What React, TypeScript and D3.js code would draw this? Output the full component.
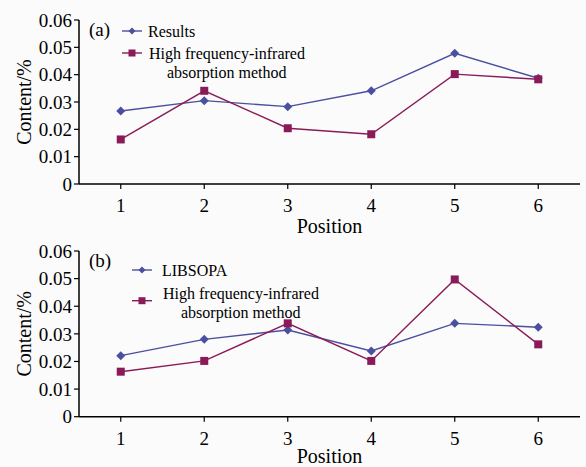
import React, { useEffect } from "react";
import * as d3 from "d3";

const positions = [1, 2, 3, 4, 5, 6];
const yTicks = [0, 0.01, 0.02, 0.03, 0.04, 0.05, 0.06];
const yTickLabels = ["0", "0.01", "0.02", "0.03", "0.04", "0.05", "0.06"];

const resultsA = [0.0267, 0.0305, 0.0283, 0.0341, 0.0478, 0.0387];
const hfA = [0.0163, 0.0341, 0.0204, 0.0182, 0.0402, 0.0383];

const libsopaB = [0.0221, 0.028, 0.0314, 0.0238, 0.0338, 0.0324];
const hfB = [0.0163, 0.0202, 0.0338, 0.0202, 0.0497, 0.0262];

const BLUE = "#4a4f9f";
const MAG = "#8a1b58";
const FONT = "'Liberation Serif', 'Times New Roman', serif";

type PanelProps = {
  top: number;
  bottom: number;
  label: string;
  s1: number[];
  s2: number[];
  name1: string;
  titleDy: number;
  leg: { x: number; y1: number; y2: number; tx: number; t1y: number; t2y: number; t3x: number; t3y: number };
};

function Diamond({ x, y, r }: { x: number; y: number; r: number }) {
  return <path d={`M${x},${y - r}L${x + r},${y}L${x},${y + r}L${x - r},${y}Z`} fill={BLUE} />;
}
function Square({ x, y, r }: { x: number; y: number; r: number }) {
  return <rect x={x - r} y={y - r} width={2 * r} height={2 * r} fill={MAG} />;
}

function Panel({ top, bottom, label, s1, s2, name1, titleDy, leg }: PanelProps) {
  const x = d3.scaleLinear().domain([0.5, 6.5]).range([79, 580]);
  const y = d3.scaleLinear().domain([0, 0.06]).range([bottom, top]);
  const line = d3
    .line<number>()
    .x((_, i) => x(positions[i]))
    .y((d) => y(d));
  return (
    <g>
      <line x1={79} x2={79} y1={top} y2={bottom} stroke="#000" strokeWidth={1.5} />
      <line x1={79} x2={580} y1={bottom} y2={bottom} stroke="#000" strokeWidth={1.5} />
      {yTicks.map((t, i) => (
        <g key={"y" + i}>
          <line x1={74} x2={79} y1={y(t)} y2={y(t)} stroke="#000" strokeWidth={1.2} />
          <text x={72} y={y(t)} dy="0.35em" textAnchor="end" fontSize={19} fontFamily={FONT}>
            {yTickLabels[i]}
          </text>
        </g>
      ))}
      {positions.map((p) => (
        <g key={"x" + p}>
          <line x1={x(p)} x2={x(p)} y1={bottom} y2={bottom + 5} stroke="#000" strokeWidth={1.2} />
          <text x={x(p)} y={bottom + 28} textAnchor="middle" fontSize={19} fontFamily={FONT}>
            {p}
          </text>
        </g>
      ))}
      <text x={(79 + 580) / 2} y={bottom + titleDy} textAnchor="middle" fontSize={20} fontFamily={FONT}>
        Position
      </text>
      <text
        transform={`translate(31,${(top + bottom) / 2}) rotate(-90)`}
        textAnchor="middle"
        fontSize={20}
        fontFamily={FONT}
      >
        Content/%
      </text>
      <text x={89} y={top + 16} fontSize={19} fontFamily={FONT}>
        {label}
      </text>
      <path d={line(s1) || ""} fill="none" stroke={BLUE} strokeWidth={1.4} />
      <path d={line(s2) || ""} fill="none" stroke={MAG} strokeWidth={1.4} />
      {s1.map((v, i) => (
        <Diamond key={"d" + i} x={x(positions[i])} y={y(v)} r={4.5} />
      ))}
      {s2.map((v, i) => (
        <Square key={"s" + i} x={x(positions[i])} y={y(v)} r={4} />
      ))}
      {/* legend */}
      <line x1={leg.x - 10} x2={leg.x + 10} y1={leg.y1} y2={leg.y1} stroke={BLUE} strokeWidth={1.4} />
      <Diamond x={leg.x} y={leg.y1} r={3.5} />
      <text x={leg.tx} y={leg.t1y} dy="0.35em" fontSize={16} fontFamily={FONT}>
        {name1}
      </text>
      <line x1={leg.x - 10} x2={leg.x + 10} y1={leg.y2} y2={leg.y2} stroke={MAG} strokeWidth={1.4} />
      <Square x={leg.x} y={leg.y2} r={3.5} />
      <text x={leg.tx + 1} y={leg.t2y} dy="0.35em" fontSize={16} fontFamily={FONT}>
        High frequency-infrared
      </text>
      <text x={leg.t3x} y={leg.t3y} dy="0.35em" fontSize={16} fontFamily={FONT}>
        absorption method
      </text>
    </g>
  );
}

export default function App() {
  useEffect(() => {
    document.body.style.margin = "0";
  }, []);
  return (
    <svg
      width={586}
      height={467}
      style={{ position: "absolute", left: 0, top: 0, background: "#fbfbfb" }}
    >
      <rect width={586} height={467} fill="#fbfbfb" />
      <Panel
        top={20}
        bottom={184}
        label="(a)"
        s1={resultsA}
        s2={hfA}
        name1="Results"
        titleDy={49}
        leg={{ x: 132, y1: 31, y2: 53, tx: 148, t1y: 31.5, t2y: 53, t3x: 167, t3y: 72 }}
      />
      <Panel
        top={251}
        bottom={416.7}
        label="(b)"
        s1={libsopaB}
        s2={hfB}
        name1="LIBSOPA"
        titleDy={46.5}
        leg={{ x: 142, y1: 270, y2: 300.7, tx: 162, t1y: 270, t2y: 293.5, t3x: 181, t3y: 312.5 }}
      />
    </svg>
  );
}
